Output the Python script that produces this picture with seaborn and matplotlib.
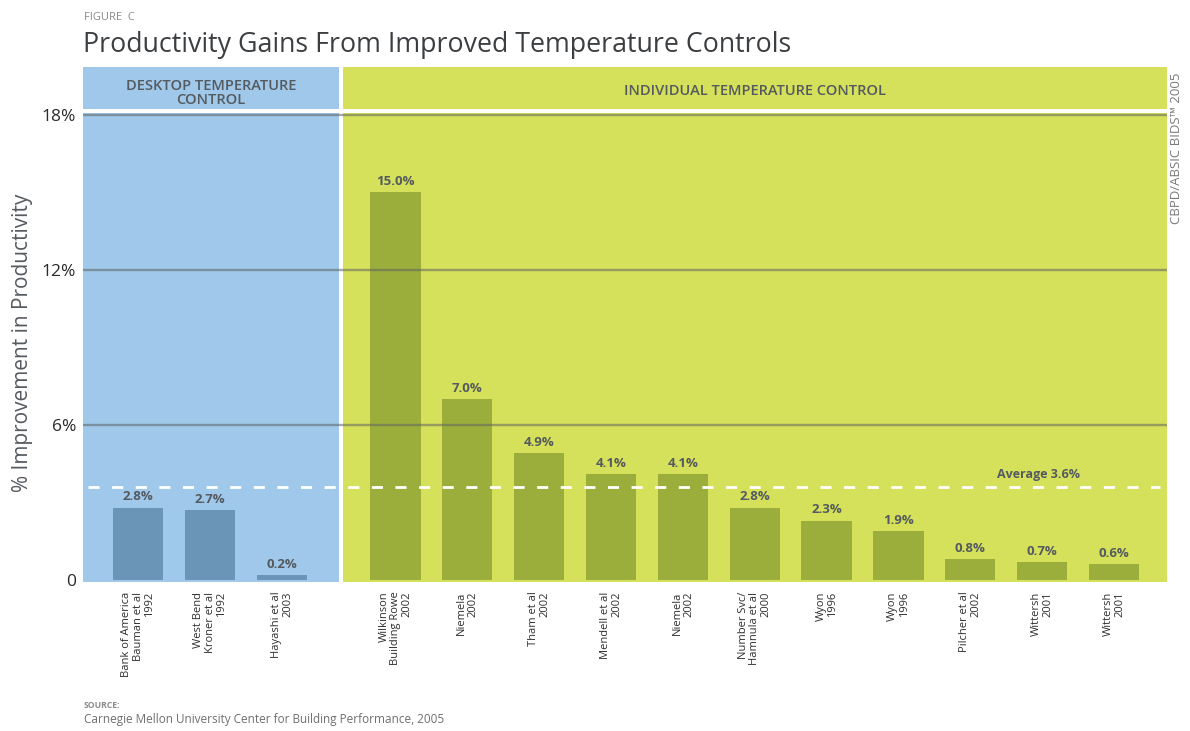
import numpy as np
import pandas as pd
import matplotlib
matplotlib.use("Agg")
import matplotlib.pyplot as plt
import seaborn as sns

# Study results: % improvement in productivity
desktop_labels = [
    "Bank of America\nBauman et al\n1992",
    "West Bend\nKroner et al\n1992",
    "Hayashi et al\n2003",
]
desktop_values = [2.8, 2.7, 0.2]

individual_labels = [
    "Wilkinson\nBuilding Rowe\n2002",
    "Niemela\n2002",
    "Tham et al\n2002",
    "Mendell et al\n2002",
    "Niemela\n2002",
    "Number Svc/\nHamnula et al\n2000",
    "Wyon\n1996",
    "Wyon\n1996",
    "Pilcher et al\n2002",
    "Wittersh\n2001",
    "Wittersh\n2001",
]
individual_values = [15.0, 7.0, 4.9, 4.1, 4.1, 2.8, 2.3, 1.9, 0.8, 0.7, 0.6]

group_names = ["DESKTOP TEMPERATURE\nCONTROL", "INDIVIDUAL TEMPERATURE CONTROL"]
average_value = 3.6
ytick_values = [0, 6, 12, 18]
ytick_labels = ["0", "6%", "12%", "18%"]

# colours
BLUE_BG, BLUE_BAR = "#9fc8ea", "#6a95b7"
GREEN_BG, GREEN_BAR = "#d5e05b", "#9bae3b"
TXT = "#555a5f"

sns.set_theme(style="white")
plt.rcParams["font.family"] = ["Open Sans", "DejaVu Sans"]

# bar positions: one slot per study, with a wider gap between the two groups
GROUP_GAP = 1.575
pos_desktop = np.arange(len(desktop_values), dtype=float)
pos_individual = pos_desktop[-1] + GROUP_GAP + np.arange(len(individual_values)) * 0.998

df = pd.DataFrame({
    "pos": np.concatenate([pos_desktop, pos_individual]),
    "value": desktop_values + individual_values,
    "group": ["desktop"] * len(desktop_values) + ["individual"] * len(individual_values),
})

W, H = 1190, 731
fig = plt.figure(figsize=(W / 100, H / 100), dpi=100)
ax_left, ax_right, ax_top, ax_bot = 83, 1167, 67, 582
ax = fig.add_axes([ax_left / W, 1 - ax_bot / H, (ax_right - ax_left) / W, (ax_bot - ax_top) / H])
ax.set_facecolor("white")

x0, x1 = -0.764, 14.29
ppu = 25.86  # pixels per percentage point
y0 = -(ax_bot - 580) / ppu
y1 = (580 - ax_top) / ppu
ax.set_xlim(x0, x1)
ax.set_ylim(y0, y1)

split_l, split_r = 2.79, 2.85
ax.axvspan(x0, split_l, color=BLUE_BG, lw=0, zorder=0)
ax.axvspan(split_r, x1, color=GREEN_BG, lw=0, zorder=0)
# white band separating the header strip from the plot area
ax.axhspan(18.07, 18.22, color="white", lw=0, zorder=1)

sns.barplot(data=df, x="pos", y="value", hue="group", native_scale=True,
            palette={"desktop": BLUE_BAR, "individual": GREEN_BAR},
            width=0.7, dodge=False, legend=False, saturation=1,
            linewidth=0, ax=ax, zorder=2)

ax.set_xlim(x0, x1)
ax.set_ylim(y0, y1)

# horizontal gridlines drawn over the bars
for yv in [6, 12, 18]:
    ax.axhline(yv, color="#5f6360", alpha=0.55, lw=1.7, zorder=4)

# average line
ax.plot([x0 + 0.07, x1 - 0.1], [average_value, average_value], color="white",
        lw=2, dashes=(4, 4.5), zorder=5)
ax.text(12.5, average_value + 0.22, f"Average {average_value}%", ha="center", va="bottom",
        fontsize=9, fontweight="bold", color=TXT, zorder=6)

# value labels
for p, v in zip(df["pos"], df["value"]):
    ax.text(p, v + 0.16, f"{v:.1f}%", ha="center", va="bottom", fontsize=9.5,
            fontweight="bold", color=TXT, zorder=6)

# group headers
ax.text((x0 + split_l) / 2, 18.84, group_names[0], ha="center", va="center",
        fontsize=10.5, fontweight="semibold", color=TXT, linespacing=1.05, zorder=6)
ax.text((split_r + x1) / 2, 18.9, group_names[1], ha="center", va="center",
        fontsize=10.5, fontweight="semibold", color=TXT, zorder=6)

# axes decoration
for s in ax.spines.values():
    s.set_visible(False)
ax.set_xticks(df["pos"], desktop_labels + individual_labels, rotation=90,
              fontsize=8, color="#2e2e2e", multialignment="right",
              linespacing=1.05)
ax.set_yticks(ytick_values, ytick_labels, fontsize=12.5, color="#2a2a2a",
              fontweight="medium")
ax.tick_params(axis="both", length=0)
ax.tick_params(axis="x", pad=7)
ax.tick_params(axis="y", pad=5)
ax.set_xlabel("")
ax.set_ylabel("")
ax.grid(False)

fig.text(23 / W, 1 - 343 / H, "% Improvement in Productivity", rotation=90,
         ha="center", va="center", fontsize=15, color=TXT)

# titles and notes
fig.text(84 / W, 1 - 17 / H, "FIGURE  C", ha="left", va="center",
         fontsize=8, color="#8a8a8a")
fig.text(83 / W, 1 - 45 / H, "Productivity Gains From Improved Temperature Controls",
         ha="left", va="center", fontsize=19.3, color="#3c3f42")
fig.text(1176 / W, 1 - 72 / H, "CBPD/ABSIC BIDS\u2122 2005", rotation=90,
         ha="center", va="top", fontsize=9.5, color="#7a7a7a")
fig.text(84 / W, 1 - 706 / H, "SOURCE:", ha="left", va="center",
         fontsize=6.2, fontweight="bold", color="#8a8a8a")
fig.text(84 / W, 1 - 720 / H,
         "Carnegie Mellon University Center for Building Performance, 2005",
         ha="left", va="center", fontsize=8.5, color="#6f6f6f")

fig.savefig("out.png", dpi=100)
